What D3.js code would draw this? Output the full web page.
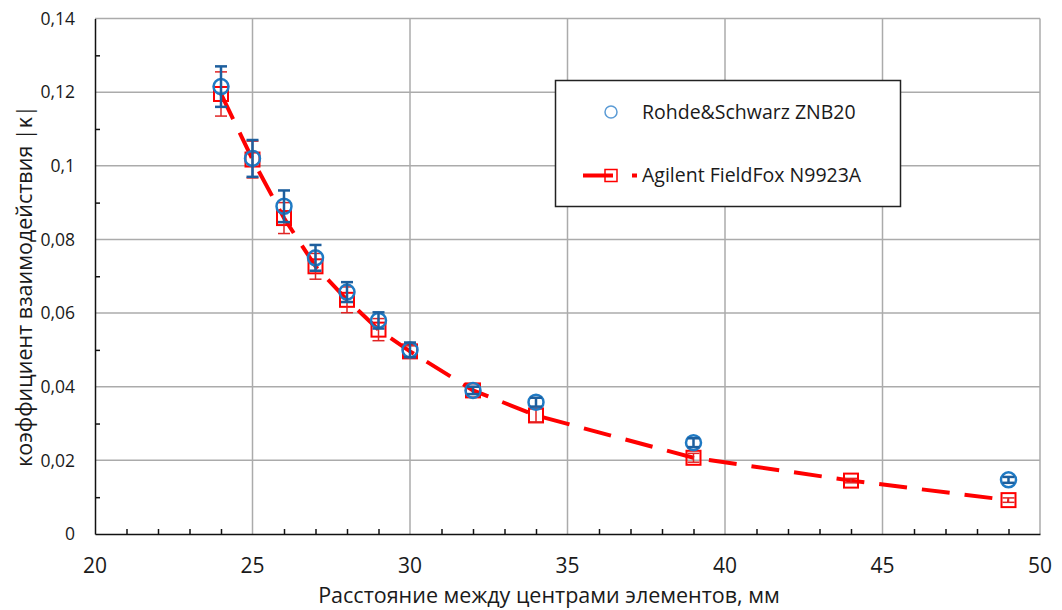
<!DOCTYPE html>
<html>
<head>
<meta charset="utf-8">
<script src="https://cdn.jsdelivr.net/npm/d3@7"></script>
<style>
  html, body { margin: 0; padding: 0; background: #fff; }
  svg text { font-family: "Open Sans", "Noto Sans", sans-serif; fill: #1a1a1a; }
</style>
</head>
<body>
<svg id="chart" width="1062" height="610"></svg>
<script>
// Distance between element centres, mm
const rsX = [24, 25, 26, 27, 28, 29, 30, 32, 34, 39, 49];
// Rohde&Schwarz ZNB20: coupling coefficient |κ| and its spread
const rsY = [0.1215, 0.1020, 0.0890, 0.0750, 0.0657, 0.0580, 0.0500, 0.0390, 0.0358, 0.0248, 0.0147];
const rsErr = [0.0055, 0.0050, 0.0043, 0.0035, 0.0027, 0.0022, 0.0020, 0.0010, 0.0012, 0.0012, 0.0008];

const agX = [24, 25, 26, 27, 28, 29, 30, 32, 34, 39, 44, 49];
// Agilent FieldFox N9923A
const agY = [0.1195, 0.1017, 0.0858, 0.0727, 0.0636, 0.0555, 0.0496, 0.0390, 0.0322, 0.0207, 0.0145, 0.0092];
const agErr = [0.0060, 0.0050, 0.0042, 0.0035, 0.0035, 0.0030, 0.0015, 0.0010, 0.0018, 0.0012, 0.0006, 0.0006];

const xTicks = [20, 25, 30, 35, 40, 45, 50];
const yTicks = [0, 0.02, 0.04, 0.06, 0.08, 0.10, 0.12, 0.14];
const yTickLabels = ["0", "0,02", "0,04", "0,06", "0,08", "0,1", "0,12", "0,14"];

const seriesNames = ["Rohde&Schwarz ZNB20", "Agilent FieldFox N9923A"];
const xTitle = "Расстояние между центрами элементов, мм";
const yTitle = "коэффициент взаимодействия  |κ|";

const svg = d3.select("#chart");
const L = 95, R = 1040, T = 18.5, B = 534;

const x = d3.scaleLinear().domain([20, 50]).range([L, R]);
const y = d3.scaleLinear().domain([0, 0.14]).range([B, T]);

// grid
const grid = svg.append("g");
grid.selectAll(".gx").data(xTicks.filter(d => d > 20)).enter().append("line")
  .attr("x1", d => x(d)).attr("x2", d => x(d)).attr("y1", T).attr("y2", B)
  .attr("stroke", "#ababab").attr("stroke-width", 1.5);
grid.selectAll(".gy").data(yTicks.filter(d => d > 0)).enter().append("line")
  .attr("x1", L).attr("x2", R).attr("y1", d => y(d)).attr("y2", d => y(d))
  .attr("stroke", "#ababab").attr("stroke-width", 1.5);

// axes (inner minor ticks)
const xAxis = d3.axisBottom(x).tickValues(d3.range(21, 50).filter(d => d % 5 !== 0))
  .tickSizeInner(-5).tickSizeOuter(0).tickFormat("");
svg.append("g").attr("transform", `translate(0,${B})`).call(xAxis)
  .call(g => g.selectAll("line,path").attr("stroke", "#111").attr("stroke-width", 1.5));
const yAxis = d3.axisLeft(y).tickValues(d3.range(1, 14, 2).map(d => d / 100))
  .tickSizeInner(-5).tickSizeOuter(0).tickFormat("");
svg.append("g").attr("transform", `translate(${L},0)`).call(yAxis)
  .call(g => g.selectAll("line,path").attr("stroke", "#111").attr("stroke-width", 1.5));

// tick labels
svg.append("g").selectAll("text").data(xTicks).enter().append("text")
  .attr("x", d => x(d)).attr("y", 573).attr("text-anchor", "middle")
  .attr("font-size", 21).text(d => d);
svg.append("g").selectAll("text").data(yTicks).enter().append("text")
  .attr("x", 75).attr("y", d => y(d)).attr("dy", "0.36em").attr("text-anchor", "end")
  .attr("font-size", 17.5).text((d, i) => yTickLabels[i]);

// axis titles
svg.append("text").attr("x", 549).attr("y", 603).attr("text-anchor", "middle")
  .attr("font-size", 21.5).text(xTitle);
svg.append("text").attr("transform", "translate(32,286) rotate(-90)")
  .attr("text-anchor", "middle").attr("font-size", 21.5).text(yTitle);

// Agilent: dashed line
const line = d3.line().x(d => x(d[0])).y(d => y(d[1]));
svg.append("path").datum(agX.map((d, i) => [d, agY[i]]))
  .attr("d", line).attr("fill", "none").attr("stroke", "#ff0000")
  .attr("stroke-width", 4).attr("stroke-dasharray", "28,15");

function errorBars(g, xs, ys, es, color, w, cap) {
  const sel = g.selectAll("g.eb").data(xs.map((d, i) => ({ x: d, y: ys[i], e: es[i] })))
    .enter().append("g");
  sel.append("line").attr("x1", d => x(d.x)).attr("x2", d => x(d.x))
    .attr("y1", d => y(d.y - d.e)).attr("y2", d => y(d.y + d.e));
  sel.append("line").attr("x1", d => x(d.x) - cap).attr("x2", d => x(d.x) + cap)
    .attr("y1", d => y(d.y - d.e)).attr("y2", d => y(d.y - d.e));
  sel.append("line").attr("x1", d => x(d.x) - cap).attr("x2", d => x(d.x) + cap)
    .attr("y1", d => y(d.y + d.e)).attr("y2", d => y(d.y + d.e));
  sel.selectAll("line").attr("stroke", color).attr("stroke-width", w);
}

// Agilent markers and error bars
const ag = svg.append("g");
ag.selectAll("rect").data(agX).enter().append("rect")
  .attr("x", (d) => x(d) - 7).attr("y", (d, i) => y(agY[i]) - 7)
  .attr("width", 14).attr("height", 14)
  .attr("fill", "none").attr("stroke", "#ff0000").attr("stroke-width", 2);
errorBars(ag, agX, agY, agErr, "#e02424", 1.5, 6);

// Rohde&Schwarz markers and error bars
const rs = svg.append("g");
rs.selectAll("circle").data(rsX).enter().append("circle")
  .attr("cx", d => x(d)).attr("cy", (d, i) => y(rsY[i])).attr("r", 7.5)
  .attr("fill", "none").attr("stroke", "#1f7ac4").attr("stroke-width", 2.5);
errorBars(rs, rsX, rsY, rsErr, "#1d5f9e", 2.5, 6);

// legend
const lg = svg.append("g");
lg.append("rect").attr("x", 555.5).attr("y", 80.5).attr("width", 345).attr("height", 126)
  .attr("fill", "#fff").attr("stroke", "#222").attr("stroke-width", 1.5);
lg.append("circle").attr("cx", 611).attr("cy", 112).attr("r", 6)
  .attr("fill", "none").attr("stroke", "#5b9bd5").attr("stroke-width", 1.5);
lg.append("line").attr("x1", 583).attr("x2", 637).attr("y1", 175.5).attr("y2", 175.5)
  .attr("stroke", "#ff0000").attr("stroke-width", 4).attr("stroke-dasharray", "30,19");
lg.append("rect").attr("x", 605).attr("y", 169.5).attr("width", 12).attr("height", 12)
  .attr("fill", "none").attr("stroke", "#ff0000").attr("stroke-width", 1.5);
lg.append("text").attr("x", 642).attr("y", 118.5).attr("font-size", 19.5).text(seriesNames[0]);
lg.append("text").attr("x", 642).attr("y", 182).attr("font-size", 19.5).text(seriesNames[1]);
</script>
</body>
</html>
